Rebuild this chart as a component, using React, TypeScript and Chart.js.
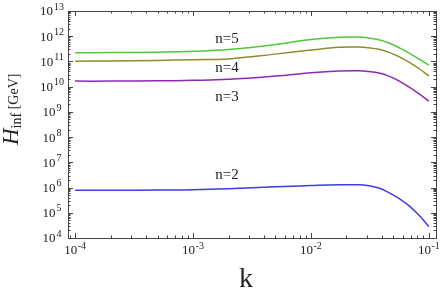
import React, { useEffect, useRef } from "react";
import { Chart, registerables } from "chart.js";

Chart.register(...registerables);

const kValues = [1e-4, 2e-4, 5e-4, 1e-3, 2e-3, 5e-3, 1e-2, 1.73e-2, 2.55e-2, 3.1e-2, 3.77e-2, 4.58e-2, 5.57e-2, 6.77e-2, 8.22e-2, 1e-1];

const hN5 = [2.19e11, 2.24e11, 2.34e11, 2.51e11, 2.95e11, 4.68e11, 7.41e11, 9.12e11, 9.33e11, 8.51e11, 7.24e11, 5.37e11, 3.55e11, 2.19e11, 1.26e11, 7.08e10];
const hN4 = [1.02e11, 1.05e11, 1.1e11, 1.17e11, 1.26e11, 1.95e11, 2.82e11, 3.63e11, 3.72e11, 3.47e11, 3.02e11, 2.29e11, 1.55e11, 9.33e10, 5.25e10, 2.69e10];
const hN3 = [1.66e10, 1.66e10, 1.7e10, 1.78e10, 1.95e10, 2.63e10, 3.55e10, 4.17e10, 4.27e10, 3.98e10, 3.47e10, 2.63e10, 1.7e10, 9.77e9, 5.25e9, 2.69e9];
const hN2 = [7.76e5, 7.76e5, 7.94e5, 8.13e5, 8.91e5, 1.07e6, 1.2e6, 1.29e6, 1.29e6, 1.17e6, 9.55e5, 6.31e5, 3.72e5, 1.91e5, 8.13e4, 2.88e4];

const seriesLabels = ["n=5", "n=4", "n=3", "n=2"];
const seriesColors = ["rgb(80,200,60)", "rgb(140,140,40)", "rgb(140,40,180)", "rgb(60,60,240)"];
const labelK = [1.94e-3, 1.94e-3, 1.94e-3, 1.94e-3];
const labelH = [7.6e11, 5.7e10, 3.9e9, 3.2e6];

const xDecades = [-4, -3, -2, -1];
const yDecades = [4, 5, 6, 7, 8, 9, 10, 11, 12, 13];
const xMin = 8.7e-5;
const xMax = 1.15e-1;
const yMin = 1e4;
const yMax = 1e13;

const SERIF = "'Liberation Serif', 'DejaVu Serif', serif";

const framePlugin = {
  id: "framePlugin",
  afterDraw(chart: any) {
    const ctx = chart.ctx as CanvasRenderingContext2D;
    const { left, right, top, bottom } = chart.chartArea;
    const xs = chart.scales.x;
    const ys = chart.scales.y;
    ctx.save();
    ctx.strokeStyle = "#444";
    ctx.lineWidth = 1;
    ctx.strokeRect(Math.round(left) + 0.5, Math.round(top) + 0.5, Math.round(right - left), Math.round(bottom - top));

    const tick = (x1: number, y1: number, x2: number, y2: number) => {
      ctx.beginPath();
      ctx.moveTo(x1, y1);
      ctx.lineTo(x2, y2);
      ctx.stroke();
    };
    for (let d = -5; d <= 0; d++) {
      for (let m = 1; m <= 9; m++) {
        const v = m * Math.pow(10, d);
        if (v < xMin || v > xMax) continue;
        const px = Math.round(xs.getPixelForValue(v)) + 0.5;
        const len = m === 1 ? 5 : 2.5;
        tick(px, bottom, px, bottom - len);
        tick(px, top, px, top + len);
      }
    }
    for (let d = 3; d <= 13; d++) {
      for (let m = 1; m <= 9; m++) {
        const v = m * Math.pow(10, d);
        if (v < yMin || v > yMax) continue;
        const py = Math.round(ys.getPixelForValue(v)) + 0.5;
        const len = m === 1 ? 5 : 2.5;
        tick(left, py, left + len, py);
        tick(right, py, right - len, py);
      }
    }

    ctx.fillStyle = "#222";
    ctx.textBaseline = "middle";
    ctx.textAlign = "left";
    const baseFont = `13px ${SERIF}`;
    const expFont = `10px ${SERIF}`;
    for (const d of yDecades) {
      const py = ys.getPixelForValue(Math.pow(10, d));
      const e = String(d);
      ctx.font = baseFont;
      const w1 = ctx.measureText("10").width;
      ctx.font = expFont;
      const w2 = ctx.measureText(e).width;
      const total = w1 + 1 + w2;
      const sx = 52 - total / 2;
      ctx.font = baseFont;
      ctx.fillText("10", sx, py + 1);
      ctx.font = expFont;
      ctx.fillText(e, sx + w1 + 1, py - 4);
    }
    for (const d of xDecades) {
      const px = xs.getPixelForValue(Math.pow(10, d));
      const e = String(d);
      ctx.font = baseFont;
      const w1 = ctx.measureText("10").width;
      ctx.font = expFont;
      const w2 = ctx.measureText(e).width;
      const total = w1 + 0.5 + w2;
      const sx = px - total / 2;
      ctx.font = baseFont;
      ctx.fillText("10", sx, bottom + 12.5);
      ctx.font = expFont;
      ctx.fillText(e, sx + w1 + 0.5, bottom + 8);
    }

    ctx.font = `15px ${SERIF}`;
    ctx.textAlign = "center";
    ctx.fillStyle = "#222";
    for (let i = 0; i < seriesLabels.length; i++) {
      ctx.fillText(seriesLabels[i], xs.getPixelForValue(labelK[i]), ys.getPixelForValue(labelH[i]));
    }

    ctx.font = `28px ${SERIF}`;
    ctx.textAlign = "center";
    ctx.textBaseline = "alphabetic";
    ctx.fillText("k", 246, 287);

    ctx.translate(18, 145);
    ctx.rotate(-Math.PI / 2);
    ctx.textAlign = "left";
    ctx.font = `italic 23px ${SERIF}`;
    ctx.fillText("H", 0, 0);
    let off = ctx.measureText("H").width;
    ctx.font = `14px ${SERIF}`;
    ctx.fillText("inf", off, 3);
    off += ctx.measureText("inf").width;
    ctx.fillText(" [GeV]", off, 0);
    ctx.restore();
  },
};

export default function App() {
  const ref = useRef<HTMLCanvasElement | null>(null);
  useEffect(() => {
    if (!ref.current) return;
    const all = [hN5, hN4, hN3, hN2];
    const chart = new Chart(ref.current, {
      type: "line",
      data: {
        datasets: all.map((arr, i) => ({
          label: seriesLabels[i],
          data: kValues.map((k, j) => ({ x: k, y: arr[j] })),
          borderColor: seriesColors[i],
          borderWidth: 1.5,
          pointRadius: 0,
          fill: false,
          tension: 0.4,
        })),
      },
      options: {
        responsive: false,
        animation: false,
        layout: { padding: { left: 68, top: 11, right: 9, bottom: 58 } },
        plugins: { legend: { display: false }, tooltip: { enabled: false } },
        scales: {
          x: { type: "logarithmic", min: xMin, max: xMax, display: false },
          y: { type: "logarithmic", min: yMin, max: yMax, display: false },
        },
      },
      plugins: [framePlugin],
    });
    return () => chart.destroy();
  }, []);
  return (
    <div style={{ position: "absolute", left: 0, top: 0, width: 445, height: 296, background: "#fff" }}>
      <canvas ref={ref} width={445} height={296} />
    </div>
  );
}
